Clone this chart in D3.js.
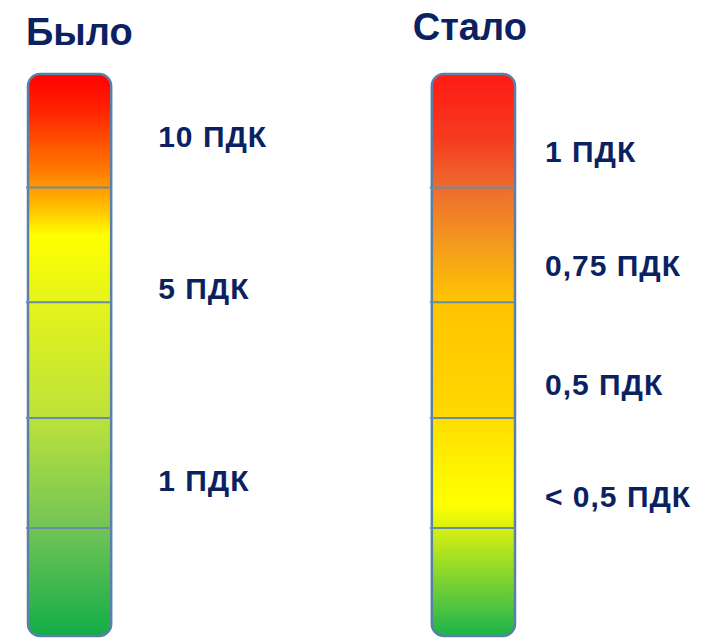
<!DOCTYPE html>
<html>
<head>
<meta charset="utf-8">
<script src="https://cdn.jsdelivr.net/npm/d3@7"></script>
<style>
  body { margin: 0; background: #fff; }
  svg text { font-family: "Liberation Sans", Arial, sans-serif; font-weight: bold; fill: #0b2262; }
</style>
</head>
<body>
<div id="chart"></div>
<script>
// categories (the two scales)
var categories = ["Было", "Стало"];
// divider levels on a 0..5 scale (bottom = 0, top = 5)
var dividersBefore = [0.96, 1.94, 2.97, 3.99];
var dividersAfter = [0.96, 1.94, 2.97, 3.99];
// tick labels and their levels
var labelsBefore = ["10 ПДК", "5 ПДК", "1 ПДК"];
var levelsBefore = [4.45, 3.09, 1.39];
var labelsAfter = ["1 ПДК", "0,75 ПДК", "0,5 ПДК", "< 0,5 ПДК"];
var levelsAfter = [4.31, 3.30, 2.24, 1.24];
// gradient stops (offset, colour) read top to bottom
var stopsBefore = [[0, "#ff0000"], [0.064, "#ff2200"], [0.171, "#ff7a00"], [0.203, "#ff9a00"],
  [0.242, "#ffc400"], [0.286, "#ffff00"], [0.402, "#e6f41a"], [0.612, "#bce23a"],
  [0.808, "#72c456"], [1, "#12ad48"]];
var stopsAfter = [[0, "#ff1a14"], [0.117, "#f53c20"], [0.203, "#ee6c2e"], [0.313, "#f49e1c"],
  [0.402, "#ffc400"], [0.58, "#ffd400"], [0.687, "#fff000"], [0.767, "#ffff00"],
  [0.808, "#d8f010"], [0.936, "#5cc83c"], [1, "#1ab44a"]];

var w = 705, h = 642;
var svg = d3.select("#chart").append("svg")
    .attr("width", w)
    .attr("height", h);

var x = d3.scaleBand()
    .domain(categories)
    .range([28, 515])
    .paddingInner(0.794)
    .paddingOuter(0);

var y = d3.scaleLinear()
    .domain([0, 5])
    .range([636, 74]);

var bars = [
  { name: categories[0], dividers: dividersBefore, labels: labelsBefore, levels: levelsBefore, stops: stopsBefore, titleDx: -2, titleY: 45, labelDx: 47 },
  { name: categories[1], dividers: dividersAfter, labels: labelsAfter, levels: levelsAfter, stops: stopsAfter, titleDx: -19, titleY: 40, labelDx: 30 }
];

var defs = svg.append("defs");
bars.forEach(function(b, i) {
  var g = defs.append("linearGradient")
      .attr("id", "grad" + i)
      .attr("x1", 0).attr("y1", 0)
      .attr("x2", 0).attr("y2", 1);
  g.selectAll("stop")
      .data(b.stops)
      .enter()
      .append("stop")
      .attr("offset", function(d) { return d[0]; })
      .attr("stop-color", function(d) { return d[1]; });
});

var group = svg.selectAll("g.bar")
    .data(bars)
    .enter()
    .append("g")
    .attr("class", "bar");

// the bar body
group.append("rect")
    .attr("x", function(d) { return x(d.name); })
    .attr("y", y(5))
    .attr("width", x.bandwidth())
    .attr("height", y(0) - y(5))
    .attr("rx", 12)
    .attr("ry", 12)
    .attr("fill", function(d, i) { return "url(#grad" + i + ")"; })
    .attr("stroke", "#5b7fa6")
    .attr("stroke-width", 2.5);

// divider lines
group.each(function(b) {
  d3.select(this).selectAll("line")
      .data(b.dividers)
      .enter()
      .append("line")
      .attr("x1", x(b.name) - 2)
      .attr("x2", x(b.name) + x.bandwidth())
      .attr("y1", function(d) { return y(d); })
      .attr("y2", function(d) { return y(d); })
      .attr("stroke", "#6b8ca6")
      .attr("stroke-width", 2);

  d3.select(this).selectAll("text.lbl")
      .data(b.labels)
      .enter()
      .append("text")
      .attr("class", "lbl")
      .attr("x", x(b.name) + x.bandwidth() + b.labelDx)
      .attr("y", function(d, i) { return y(b.levels[i]); })
      .attr("dy", "0.36em")
      .attr("font-size", 30)
      .attr("letter-spacing", 1)
      .text(function(d) { return d; });
});

// titles
group.append("text")
    .attr("class", "title")
    .attr("x", function(d) { return x(d.name) + d.titleDx; })
    .attr("y", function(d) { return d.titleY; })
    .attr("font-size", 38)
    .text(function(d) { return d.name; });
</script>
</body>
</html>
